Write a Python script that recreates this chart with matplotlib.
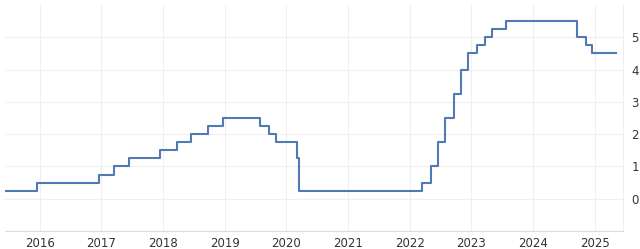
import matplotlib
matplotlib.use("Agg")
import matplotlib.pyplot as plt
import matplotlib.dates as mdates
import pandas as pd

# rate changes (date the new level takes effect, upper bound %)
dates = ["2015-06-01", "2015-12-17", "2016-12-15", "2017-03-16", "2017-06-15",
         "2017-12-14", "2018-03-22", "2018-06-14", "2018-09-27", "2018-12-20",
         "2019-08-01", "2019-09-19", "2019-10-31", "2020-03-04", "2020-03-16",
         "2022-03-17", "2022-05-05", "2022-06-16", "2022-07-28", "2022-09-22",
         "2022-11-03", "2022-12-15", "2023-02-02", "2023-03-23", "2023-05-04",
         "2023-07-27", "2024-09-19", "2024-11-08", "2024-12-19", "2025-05-07"]
rates = [0.25, 0.50, 0.75, 1.00, 1.25,
         1.50, 1.75, 2.00, 2.25, 2.50,
         2.25, 2.00, 1.75, 1.25, 0.25,
         0.50, 1.00, 1.75, 2.50, 3.25,
         4.00, 4.50, 4.75, 5.00, 5.25,
         5.50, 5.00, 4.75, 4.50, 4.50]
y_ticks = [0, 1, 2, 3, 4, 5]

x = pd.to_datetime(dates)

fig = plt.figure(figsize=(6.4, 2.49), dpi=100)
ax = fig.add_axes([5 / 640, 18 / 249, 618 / 640, 226 / 249])
ax.plot(x, rates, drawstyle="steps-post", color="#4f7ab6", lw=1.5)

ax.set_xlim(pd.Timestamp("2015-06-10"), pd.Timestamp("2025-06-18"))
ax.set_ylim(-1, 6)
ax.xaxis.set_major_locator(mdates.YearLocator())
ax.xaxis.set_major_formatter(mdates.DateFormatter("%Y"))
ax.set_yticks(y_ticks)
ax.yaxis.tick_right()
ax.grid(True, color="#efefef", lw=0.8)
ax.tick_params(length=0, labelsize=8.5, colors="#333333", pad=6)
ax.tick_params(axis="x", pad=4)
for s in ["left", "top"]:
    ax.spines[s].set_visible(False)
ax.spines["right"].set_color("#eeeeee")
ax.spines["bottom"].set_color("#dddddd")

fig.savefig("out.png", dpi=100)
